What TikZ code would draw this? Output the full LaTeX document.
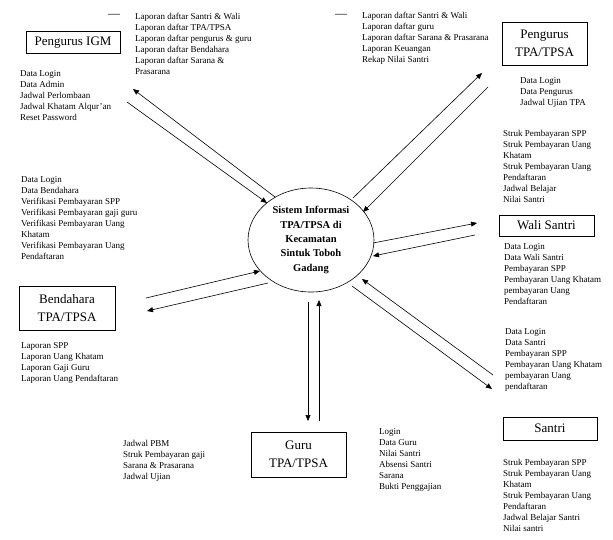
\documentclass[tikz,border=0pt]{standalone}
\usepackage{fontspec}
\setmainfont{Liberation Serif}
\usetikzlibrary{arrows.meta,shapes.geometric}
\begin{document}
\begin{tikzpicture}[x=1pt,y=-1pt,
  box/.style={draw, line width=0.6pt, inner sep=0pt, align=center, font=\fontsize{13}{18}\selectfont},
  lst/.style={anchor=north west, inner sep=0pt, align=left, font=\fontsize{9}{11}\selectfont},
  dsh/.style={inner sep=0pt, font=\fontsize{12}{12}\selectfont},
  arr/.style={-{Triangle[length=6pt,width=5pt]}, line width=0.6pt}]
\useasboundingbox[fill=white] (0,0) rectangle (613,539);

% central process
\node[ellipse, draw, line width=0.6pt, minimum width=126pt, minimum height=104pt, inner sep=0pt, align=center,
  font=\bfseries\fontsize{10.5}{14.3}\selectfont] (sys) at (311,240)
  {Sistem Informasi\\TPA/TPSA di\\Kecamatan\\Sintuk Toboh\\Gadang};

% entities
\node[box, minimum width=94pt, minimum height=22pt] (igm) at (73,42.5) {Pengurus IGM};
\node[box, minimum width=85pt, minimum height=43pt] (tpa) at (544.5,43.5) {Pengurus\\TPA/TPSA};
\node[box, minimum width=95pt, minimum height=21pt] (wali) at (546.5,225.5) {Wali Santri};
\node[box, minimum width=96pt, minimum height=44pt] (bend) at (67,308) {Bendahara\\TPA/TPSA};
\node[box, minimum width=95pt, minimum height=45pt] (guru) at (298.5,454.5) {Guru\\TPA/TPSA};
\node[box, minimum width=94pt, minimum height=23pt] (santri) at (550,428.5) {Santri};

% data flow labels
\node[dsh] (d1) at (114,16) {—};
\node[lst] (t1) at (135,13) {Laporan daftar Santri \& Wali\\Laporan daftar TPA/TPSA\\Laporan daftar pengurus \& guru\\Laporan daftar Bendahara\\Laporan daftar Sarana \&\\Prasarana};
\node[lst] (t2) at (20,70) {Data Login\\Data Admin\\Jadwal Perlombaan\\Jadwal Khatam Alqur’an\\Reset Password};
\node[dsh] (d2) at (341,16) {—};
\node[lst] (t3) at (362,12) {Laporan daftar Santri \& Wali\\Laporan daftar guru\\Laporan daftar Sarana \& Prasarana\\Laporan Keuangan\\Rekap Nilai Santri};
\node[lst] (t4) at (520,77) {Data Login\\Data Pengurus\\Jadwal Ujian TPA};
\node[lst] (t5) at (503,130) {Struk Pembayaran SPP\\Struk Pembayaran Uang\\Khatam\\Struk Pembayaran Uang\\Pendaftaran\\Jadwal Belajar\\Nilai Santri};
\node[lst] (t6) at (504,243) {Data Login\\Data Wali Santri\\Pembayaran SPP\\Pembayaran Uang Khatam\\pembayaran Uang\\Pendaftaran};
\node[lst] (t7) at (505,328) {Data Login\\Data Santri\\Pembayaran SPP\\Pembayaran Uang Khatam\\pembayaran Uang\\pendaftaran};
\node[lst] (t8) at (21,176) {Data Login\\Data Bendahara\\Verifikasi Pembayaran SPP\\Verifikasi Pembayaran gaji guru\\Verifikasi Pembayaran Uang\\Khatam\\Verifikasi Pembayaran Uang\\Pendaftaran};
\node[lst] (t9) at (21,342) {Laporan SPP\\Laporan Uang Khatam\\Laporan Gaji Guru\\Laporan Uang Pendaftaran};
\node[lst] (t10) at (123,440) {Jadwal PBM\\Struk Pembayaran gaji\\Sarana \& Prasarana\\Jadwal Ujian};
\node[lst] (t11) at (379,428) {Login\\Data Guru\\Nilai Santri\\Absensi Santri\\Sarana\\Bukti Penggajian};
\node[lst] (t12) at (503,459) {Struk Pembayaran SPP\\Struk Pembayaran Uang\\Khatam\\Struk Pembayaran Uang\\Pendaftaran\\Jadwal Belajar Santri\\Nilai santri};

% connector end points
\coordinate (a1s) at (275,197); \coordinate (a1e) at (133,89);
\coordinate (a2s) at (127,102); \coordinate (a2e) at (267,203);
\coordinate (b1s) at (353,198); \coordinate (b1e) at (482,73);
\coordinate (b2s) at (488,87);  \coordinate (b2e) at (363,212);
\coordinate (c1s) at (373,243); \coordinate (c1e) at (477,223);
\coordinate (c2s) at (475,235); \coordinate (c2e) at (373,256);
\coordinate (d1s) at (493,375); \coordinate (d1e) at (362,279);
\coordinate (d2s) at (352,286); \coordinate (d2e) at (492,389);
\coordinate (e1s) at (146,298); \coordinate (e1e) at (260,271);
\coordinate (e2s) at (268,283); \coordinate (e2e) at (147,311);
\coordinate (f1s) at (308,302); \coordinate (f1e) at (308,421);
\coordinate (f2s) at (319,421); \coordinate (f2e) at (319,300);

\draw[arr] (a1s) -- (a1e);
\draw[arr] (a2s) -- (a2e);
\draw[arr] (b1s) -- (b1e);
\draw[arr] (b2s) -- (b2e);
\draw[arr] (c1s) -- (c1e);
\draw[arr] (c2s) -- (c2e);
\draw[arr] (d1s) -- (d1e);
\draw[arr] (d2s) -- (d2e);
\draw[arr] (e1s) -- (e1e);
\draw[arr] (e2s) -- (e2e);
\draw[arr] (f1s) -- (f1e);
\draw[arr] (f2s) -- (f2e);
\end{tikzpicture}
\end{document}
